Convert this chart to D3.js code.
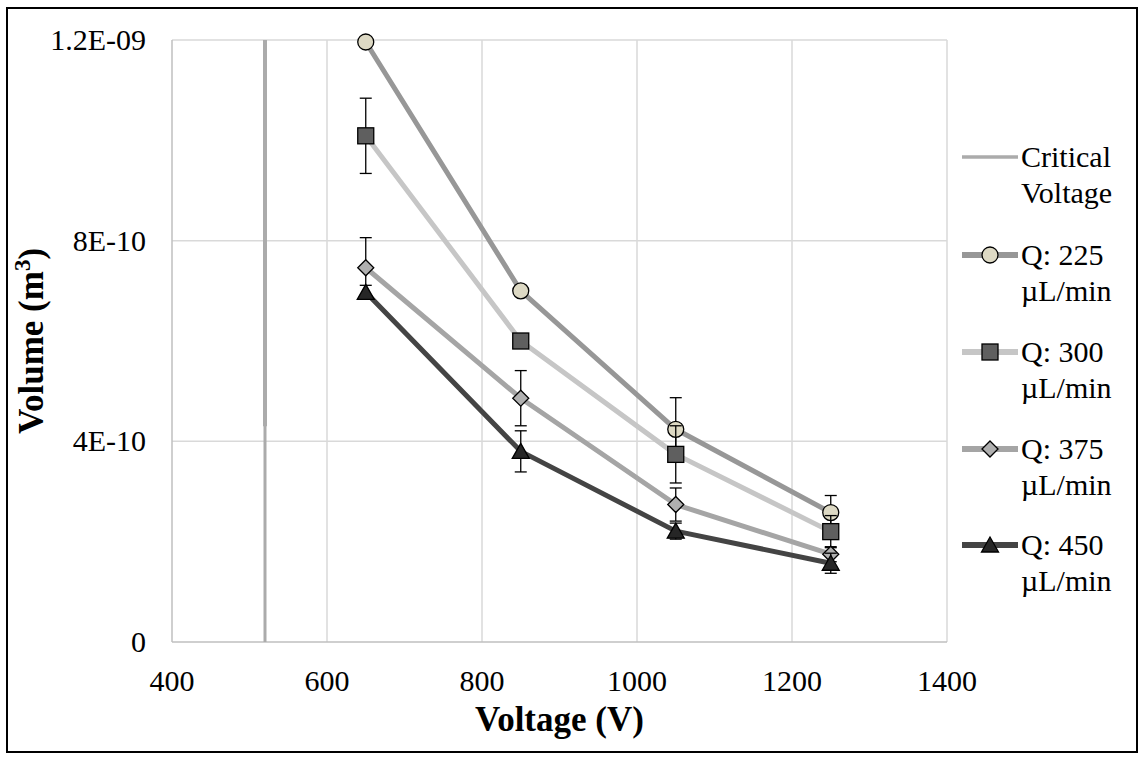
<!DOCTYPE html>
<html>
<head>
<meta charset="utf-8">
<script src="https://cdn.jsdelivr.net/npm/d3@7"></script>
<style>
  body { margin: 0; background: #fff; }
  svg text { font-family: "Liberation Serif", "Times New Roman", serif; fill: #000; }
</style>
</head>
<body>
<div id="chart"></div>
<script>
// Data
const voltages = [650, 850, 1050, 1250];
const q225 = [1.196e-9, 7.00e-10, 4.24e-10, 2.58e-10];
const q225Err = [0.8e-11, 0.8e-11, 6.3e-11, 3.4e-11];
const q300 = [1.009e-9, 6.00e-10, 3.74e-10, 2.20e-10];
const q300Err = [7.5e-11, 0.8e-11, 5.7e-11, 3.2e-11];
const q375 = [7.46e-10, 4.86e-10, 2.74e-10, 1.75e-10];
const q375Err = [6.0e-11, 5.5e-11, 3.3e-11, 1.5e-11];
const q450 = [6.97e-10, 3.80e-10, 2.21e-10, 1.57e-10];
const q450Err = [1.4e-11, 4.1e-11, 1.6e-11, 2.0e-11];
const criticalVoltage = 520;

const xTicks = [400, 600, 800, 1000, 1200, 1400];
const yTicks = [0, 4e-10, 8e-10, 1.2e-9];
const yTickLabels = ['0', '4E-10', '8E-10', '1.2E-09'];

const series = [
    { name: ['Q: 225', 'µL/min'], values: q225, err: q225Err, line: '#979797', fill: '#ddd9c4', shape: 'circle' },
    { name: ['Q: 300', 'µL/min'], values: q300, err: q300Err, line: '#c6c6c6', fill: '#5f5f5f', shape: 'square' },
    { name: ['Q: 375', 'µL/min'], values: q375, err: q375Err, line: '#a5a5a5', fill: '#b0b0b0', shape: 'diamond' },
    { name: ['Q: 450', 'µL/min'], values: q450, err: q450Err, line: '#444444', fill: '#262626', shape: 'triangle' }
];

const width = 1141, height = 760;
const svg = d3.select('#chart').append('svg')
    .attr('width', width)
    .attr('height', height);

// Outer frame
svg.append('rect')
    .attr('x', 7).attr('y', 8)
    .attr('width', 1130).attr('height', 744)
    .attr('fill', 'none')
    .attr('stroke', '#000')
    .attr('stroke-width', 2);

const x = d3.scaleLinear().domain([400, 1400]).range([172, 947]);
const y = d3.scaleLinear().domain([0, 1.2e-9]).range([642, 40]);

// Gridlines
svg.append('g').selectAll('line')
    .data(xTicks.slice(1))
    .join('line')
    .attr('x1', d => x(d)).attr('x2', d => x(d))
    .attr('y1', y(0)).attr('y2', y(1.2e-9))
    .attr('stroke', '#d9d9d9').attr('stroke-width', 1.5);

svg.append('g').selectAll('line')
    .data(yTicks.slice(1))
    .join('line')
    .attr('x1', x(400)).attr('x2', x(1400))
    .attr('y1', d => y(d)).attr('y2', d => y(d))
    .attr('stroke', '#d9d9d9').attr('stroke-width', 1.5);

// Axis lines
svg.append('line')
    .attr('x1', x(400)).attr('x2', x(400))
    .attr('y1', y(0)).attr('y2', y(1.2e-9))
    .attr('stroke', '#bfbfbf').attr('stroke-width', 1.5);
svg.append('line')
    .attr('x1', x(400)).attr('x2', x(1400))
    .attr('y1', y(0)).attr('y2', y(0))
    .attr('stroke', '#bfbfbf').attr('stroke-width', 1.5);

// Tick labels
svg.append('g').selectAll('text')
    .data(xTicks)
    .join('text')
    .attr('x', d => x(d))
    .attr('y', y(0) + 49)
    .attr('text-anchor', 'middle')
    .style('font-size', '30px')
    .text(d => d);

svg.append('g').selectAll('text')
    .data(yTicks)
    .join('text')
    .attr('x', 146)
    .attr('y', d => y(d) + 10)
    .attr('text-anchor', 'end')
    .style('font-size', '30px')
    .text((d, i) => yTickLabels[i]);

// Axis titles
svg.append('text')
    .attr('x', (x(400) + x(1400)) / 2)
    .attr('y', 731)
    .attr('text-anchor', 'middle')
    .style('font-size', '35px')
    .style('font-weight', 'bold')
    .text('Voltage (V)');

const yTitle = svg.append('text')
    .attr('transform', `translate(43, ${(y(0) + y(1.2e-9)) / 2}) rotate(-90)`)
    .attr('text-anchor', 'middle')
    .style('font-size', '35px')
    .style('font-weight', 'bold');
yTitle.append('tspan').text('Volume (m');
yTitle.append('tspan').attr('dy', -13).style('font-size', '23px').text('3');
yTitle.append('tspan').attr('dy', 13).text(')');

// Critical voltage line (upper part drawn slightly heavier, as in the reference)
svg.append('line')
    .attr('x1', x(criticalVoltage)).attr('x2', x(criticalVoltage))
    .attr('y1', y(0)).attr('y2', y(1.2e-9))
    .attr('stroke', '#ababab').attr('stroke-width', 3);
svg.append('line')
    .attr('x1', x(criticalVoltage)).attr('x2', x(criticalVoltage))
    .attr('y1', y(4.3e-10)).attr('y2', y(1.2e-9))
    .attr('stroke', '#ababab').attr('stroke-width', 4);

// Marker shapes
function drawMarker(sel, shape, fill) {
    if (shape === 'circle') {
        sel.append('circle').attr('r', 8);
    } else if (shape === 'square') {
        sel.append('rect').attr('x', -8).attr('y', -8).attr('width', 16).attr('height', 16);
    } else if (shape === 'diamond') {
        sel.append('path').attr('d', 'M0,-8L8,0L0,8L-8,0Z');
    } else {
        sel.append('path').attr('d', 'M0,-8L8.5,7L-8.5,7Z');
    }
    sel.selectAll('*')
        .attr('fill', fill)
        .attr('stroke', '#000')
        .attr('stroke-width', 1.3);
}

const line = d3.line()
    .x((d, i) => x(voltages[i]))
    .y(d => y(d));

series.forEach(s => {
    const g = svg.append('g');
    g.append('path')
        .datum(s.values)
        .attr('d', line)
        .attr('fill', 'none')
        .attr('stroke', s.line)
        .attr('stroke-width', 5)
        .attr('stroke-linejoin', 'round');

    // Error bars
    const eb = g.append('g').selectAll('g')
        .data(s.values)
        .join('g');
    eb.append('line')
        .attr('x1', (d, i) => x(voltages[i])).attr('x2', (d, i) => x(voltages[i]))
        .attr('y1', (d, i) => y(d - s.err[i])).attr('y2', (d, i) => y(d + s.err[i]))
        .attr('stroke', '#000').attr('stroke-width', 1.3);
    [-1, 1].forEach(sign => {
        eb.append('line')
            .attr('x1', (d, i) => x(voltages[i]) - 6).attr('x2', (d, i) => x(voltages[i]) + 6)
            .attr('y1', (d, i) => y(d + sign * s.err[i])).attr('y2', (d, i) => y(d + sign * s.err[i]))
            .attr('stroke', '#000').attr('stroke-width', 1.3);
    });

    g.append('g').selectAll('g')
        .data(s.values)
        .join('g')
        .attr('transform', (d, i) => `translate(${x(voltages[i])},${y(d)})`)
        .each(function () { drawMarker(d3.select(this), s.shape, s.fill); });
});

// Legend
const legendItems = [
    { name: ['Critical', 'Voltage'], line: '#ababab', shape: null }
].concat(series);
const legendY = [157, 255, 352, 449, 545];

legendItems.forEach((item, k) => {
    const g = svg.append('g').attr('transform', `translate(0, ${legendY[k]})`);
    g.append('line')
        .attr('x1', 962).attr('x2', 1018)
        .attr('y1', 0).attr('y2', 0)
        .attr('stroke', item.line)
        .attr('stroke-width', item.shape ? 6 : 3.5);
    if (item.shape) {
        const m = g.append('g').attr('transform', 'translate(990,0)');
        drawMarker(m, item.shape, item.fill);
    }
    g.selectAll('text.lbl')
        .data(item.name)
        .join('text')
        .attr('class', 'lbl')
        .attr('x', 1021)
        .attr('y', (d, j) => 10 + j * 36)
        .style('font-size', '30px')
        .text(d => d);
});
</script>
</body>
</html>
